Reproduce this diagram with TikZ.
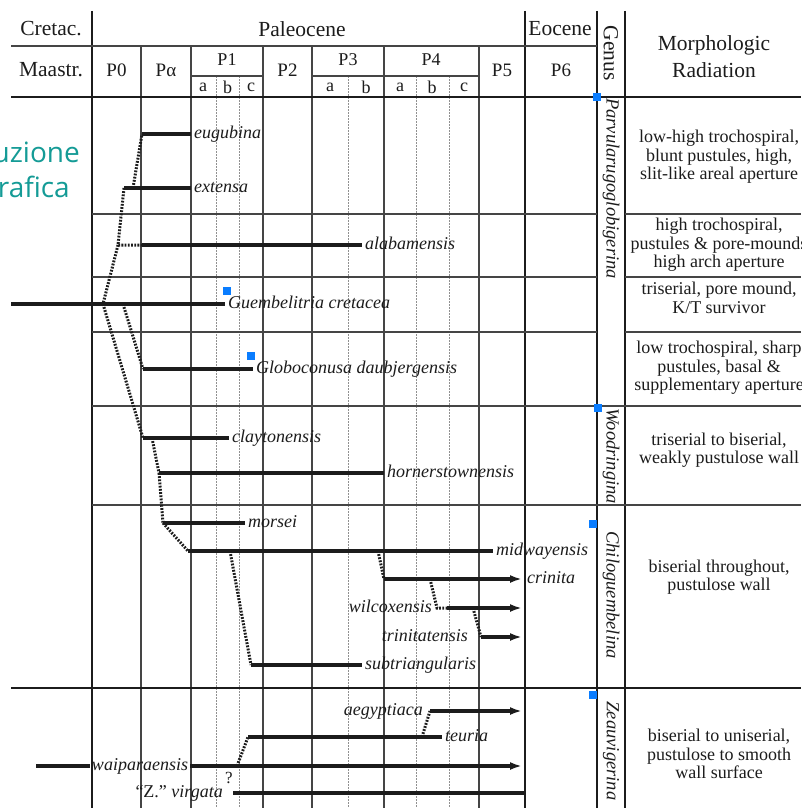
\documentclass[tikz,border=0pt]{standalone}
\usepackage{fontspec}
\setmainfont{Liberation Serif}
\newfontfamily\tealfont{Open Sans}
\usetikzlibrary{arrows.meta}
\definecolor{ink}{HTML}{1C1C1C}
\definecolor{gridc}{HTML}{454545}
\definecolor{dotc}{HTML}{909090}
\definecolor{tealc}{RGB}{20,155,150}
\definecolor{handle}{RGB}{10,125,255}
\begin{document}
\begin{tikzpicture}[x=1pt,y=-1pt,
  thk/.style={draw=ink,line width=3.4pt},
  dots/.style={draw=ink,line width=3pt,dash pattern=on 1.8pt off 1.4pt},
  arr/.style={draw=ink,line width=3.4pt,-{Latex[length=12pt,width=8pt]}},
  gsolid/.style={draw=gridc,line width=1.1pt},
  gbold/.style={draw=ink,line width=1.9pt},
  gdot/.style={draw=dotc,line width=1pt,dash pattern=on 1.5pt off 1.5pt},
  hrow/.style={draw=gridc,line width=1.3pt},
  sp/.style={font=\fontsize{18}{18}\selectfont\itshape,inner sep=3pt,text height=12.5pt,text depth=4.3pt,text=ink},
  hd/.style={font=\fontsize{21.5}{21.5}\selectfont,inner sep=0pt,text=ink},
  subh/.style={font=\fontsize{19}{19}\selectfont,inner sep=0pt,text=ink},
  subs/.style={font=\fontsize{18}{18}\selectfont,inner sep=0pt,text=ink},
  gen/.style={font=\fontsize{18.5}{18.5}\selectfont\itshape,rotate=-90,inner sep=0pt,text=ink},
  morph/.style={font=\fontsize{18}{18.5}\selectfont,align=center,inner sep=0pt,text=ink},
  hnd/.style={fill=handle,minimum size=7.5pt,inner sep=0pt},
  tealtxt/.style={font=\tealfont\fontsize{28}{28}\selectfont,text=tealc,inner sep=0pt,anchor=base east}
]
\useasboundingbox (0,0) rectangle (801,808);
\clip (0,0) rectangle (801,808);
\fill[white] (0,0) rectangle (801,808);

% ---- grid ----
\foreach \x in {92,525,597,625} \draw[gbold] (\x,11) -- (\x,808);
\foreach \x in {141,191,263,312,384,479} \draw[gsolid] (\x,46) -- (\x,808);
\foreach \x in {216,239,348,416,449} \draw[gdot] (\x,76) -- (\x,808);
\draw[gsolid,line width=1.5pt] (11,46) -- (597,46);
\draw[gsolid] (191,76) -- (263,76) (312,76) -- (479,76);
\draw[gbold,line width=2.6pt] (11,97) -- (801,97);
\draw[gbold,line width=2.6pt] (11,688) -- (801,688);
\foreach \y in {214,277,332} \draw[hrow] (92,\y) -- (597,\y) (625,\y) -- (801,\y);
\foreach \y in {406,505} \draw[hrow] (92,\y) -- (801,\y);

% ---- header ----
\node[hd] (hcret) at (51,29) {Cretac.};
\node[hd] (hpal) at (302,29) {Paleocene};
\node[hd] (heoc) at (560,29) {Eocene};
\node[hd] (hmaa) at (51,70) {Maastr.};
\node[subh] (hp0) at (116.5,70) {P0};
\node[subh] (hpa) at (166,70) {Pα};
\node[subs] (hp1) at (227,60) {P1};
\node[subs] (hp1a) at (203,87) {a};
\node[subs] (hp1b) at (227.5,87) {b};
\node[subs] (hp1c) at (251,87) {c};
\node[subh] (hp2) at (287.5,70) {P2};
\node[subs] (hp3) at (348,60) {P3};
\node[subs] (hp3a) at (330,87) {a};
\node[subs] (hp3b) at (366,87) {b};
\node[subs] (hp4) at (431,60) {P4};
\node[subs] (hp4a) at (400,87) {a};
\node[subs] (hp4b) at (432,87) {b};
\node[subs] (hp4c) at (464,87) {c};
\node[subh] (hp5) at (502,70) {P5};
\node[subh] (hp6) at (561,70) {P6};
\node[hd,rotate=-90] (hgen) at (611,53) {Genus};
\node[hd] (hmor) at (714,45) {Morphologic};
\node[hd] (hrad) at (714,70) {Radiation};

% ---- genus names ----
\node[gen] (g1) at (611,188.5) {Parvularugoglobigerina};
\node[gen] (g2) at (611,456) {Woodringina};
\node[gen] (g3) at (611,595) {Chiloguembelina};
\node[gen] (g4) at (611,751) {Zeauvigerina};

% ---- morphologic radiation ----
\node[morph] (m1) at (719,157) {low-high trochospiral,\\blunt pustules, high,\\slit-like areal aperture};
\node[morph] (m2) at (719,245) {high trochospiral,\\pustules \& pore-mounds\\high arch aperture};
\node[morph] (m3) at (719,298) {triserial, pore mound,\\K/T survivor};
\node[morph] (m4) at (719,368) {low trochospiral, sharp\\pustules, basal \&\\supplementary aperture};
\node[morph] (m5) at (719,450) {triserial to biserial,\\weakly pustulose wall};
\node[morph] (m6) at (719,577) {biserial throughout,\\pustulose wall};
\node[morph] (m7) at (719,754) {biserial to uniserial,\\pustulose to smooth\\wall surface};

% ---- phylogeny ----
\coordinate (eL) at (142,134);
\node[sp,anchor=west] (eu) at (191,134) {eugubina};
\draw[thk] (eL) -- (eu.west);

\coordinate (xL) at (124,188); \coordinate (xJ) at (133,188);
\node[sp,anchor=west] (ex) at (191,188) {extensa};
\draw[thk] (xL) -- (ex.west);
\draw[dots] (xJ) -- (eL);

\coordinate (aJ) at (118,245); \coordinate (aL) at (142,245);
\node[sp,anchor=west] (al) at (362,245) {alabamensis};
\draw[dots] (xL) -- (aJ) -- (aL);
\draw[thk] (aL) -- (al.west);

\coordinate (gL) at (11,304); \coordinate (gJ) at (103,304); \coordinate (gJ2) at (123,304);
\node[sp,anchor=west] (gu) at (225,304) {Guembelitria cretacea};
\draw[thk] (gL) -- (gu.west);
\draw[dots] (aJ) -- (gJ);

\coordinate (dL) at (143,369);
\node[sp,anchor=west] (gl) at (253,369) {Globoconusa daubjergensis};
\draw[dots] (gJ2) -- (dL);
\draw[thk] (dL) -- (gl.west);

\coordinate (cL) at (143,438); \coordinate (cJ) at (152,438);
\node[sp,anchor=west] (cl) at (229,438) {claytonensis};
\draw[dots] (gJ) -- (cL);
\draw[thk] (cL) -- (cl.west);

\coordinate (hL) at (159,473);
\node[sp,anchor=west] (ho) at (384,473) {hornerstownensis};
\draw[dots] (cJ) -- (hL);
\draw[thk] (hL) -- (ho.west);

\coordinate (mL) at (163,523);
\node[sp,anchor=west] (mo) at (245,523) {morsei};
\draw[dots] (hL) -- (mL);
\draw[thk] (mL) -- (mo.west);

\coordinate (wL) at (188,551); \coordinate (sJ) at (230,551); \coordinate (crJ) at (378,551);
\node[sp,anchor=west] (mi) at (493,551) {midwayensis};
\draw[dots] (mL) -- (wL);
\draw[thk] (wL) -- (mi.west);

\coordinate (sL) at (251,665);
\node[sp,anchor=west] (su) at (362,665) {subtriangularis};
\draw[dots] (sJ) -- (sL);
\draw[thk] (sL) -- (su.west);

\coordinate (crL) at (384,579); \coordinate (crR) at (522,579); \coordinate (wiJ) at (430,579);
\node[sp,anchor=west] (cr) at (524,579) {crinita};
\draw[dots] (crJ) -- (crL);
\draw[arr] (crL) -- (crR);

\coordinate (wiL) at (437,608); \coordinate (wiL2) at (447,608); \coordinate (wiR) at (522,608); \coordinate (tJ) at (473,608);
\node[sp,anchor=east] (wi) at (435,608) {wilcoxensis};
\draw[dots] (wiJ) -- (wiL) -- (wiL2);
\draw[arr] (wiL2) -- (wiR);

\coordinate (tL) at (481,637); \coordinate (tR) at (522,637);
\node[sp,anchor=east] (tr) at (471,637) {trinitatensis};
\draw[dots] (tJ) -- (tL);
\draw[arr] (tL) -- (tR);

% Zeauvigerina
\coordinate (agL) at (430,711); \coordinate (agR) at (522,711);
\node[sp,anchor=east] (ag) at (426,711) {aegyptiaca};
\draw[arr] (agL) -- (agR);
\coordinate (teL) at (248,737); \coordinate (teJ) at (422,737);
\node[sp,anchor=west] (te) at (442,737) {teuria};
\draw[thk] (teL) -- (te.west);
\draw[dots] (teJ) -- (agL);
\coordinate (waL) at (36,766); \coordinate (waJ) at (237,766); \coordinate (waR) at (522,766);
\node[sp,inner sep=2pt] (wa) at (140,766) {waiparaensis};
\draw[thk] (waL) -- (wa.west);
\draw[arr] (wa.east) -- (waR);
\draw[dots] (waJ) -- (teL);
\node[font=\fontsize{17}{17}\selectfont,text=ink,inner sep=0pt] (q) at (229,778) {?};
\node[sp,anchor=east] (zv) at (226,793) {\upshape``Z.''\ \itshape virgata};
\coordinate (zvL) at (233,793); \coordinate (zvR) at (525,793);
\draw[thk] (zvL) -- (zvR);

% ---- teal slide text ----
\node[tealtxt] (t1) at (80,162) {uzione};
\node[tealtxt] (t2) at (70,197) {rafica};

% ---- selection handles ----
\node[hnd] (h1) at (597,97) {};
\node[hnd] (h2) at (227,291) {};
\node[hnd] (h3) at (251,356) {};
\node[hnd] (h4) at (598,408) {};
\node[hnd] (h5) at (593,524) {};
\node[hnd] (h6) at (593,695) {};
\end{tikzpicture}
\end{document}
